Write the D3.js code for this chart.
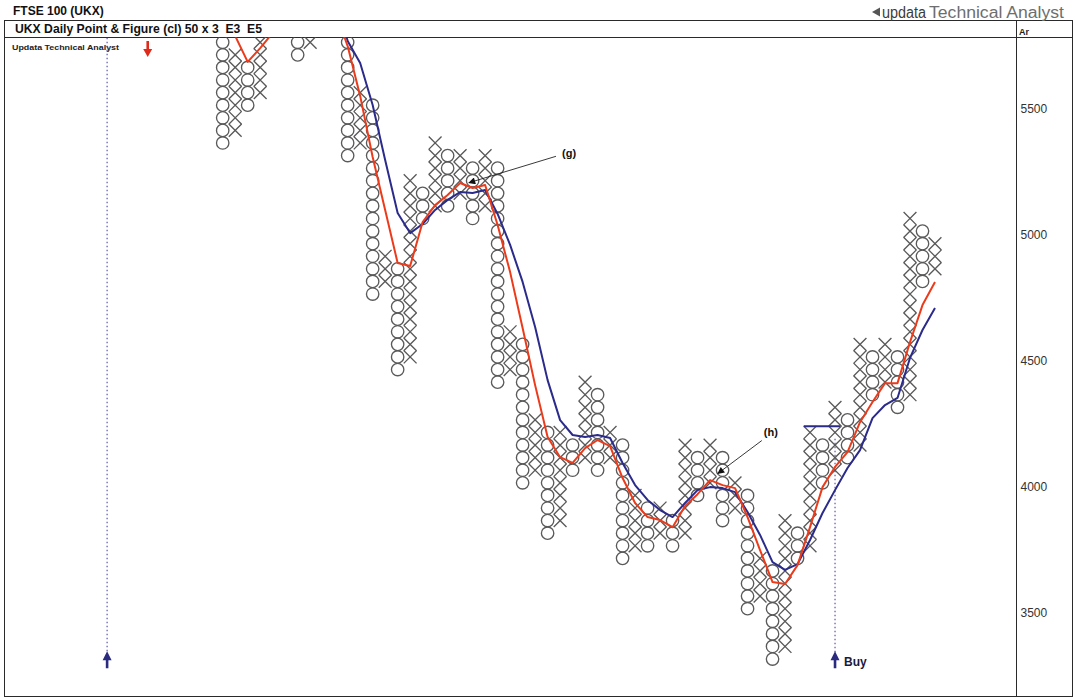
<!DOCTYPE html>
<html><head><meta charset="utf-8">
<script src="https://cdn.jsdelivr.net/npm/d3@7"></script>
<style>
body{margin:0;background:#fff}
svg{display:block}
text{font-family:"Liberation Sans",Arial,Helvetica,sans-serif}
</style>
</head><body>
<svg id="c" width="1076" height="699"></svg>
<script>
// ---------------- DATA ----------------
const boxSize = 50;
// column type: even index = O (falling), odd index = X (rising)
const colTypes = ["O","X","O","X","O","X","O","X","O","X","O","X","O","X","O","X","O","X","O","X",
                  "O","X","O","X","O","X","O","X","O","X","O","X","O","X","O","X","O","X","O","X",
                  "O","X","O","X","O","X","O","X","O","X","O","X","O","X","O","X","O","X"];
// lowest and highest box (lower bound of the box) of each column
const colLow  = [5350,5400,5500,5550,5800,5850,5700,5750,5800,5850,5300,5350,4750,4800,4450,4500,5050,5100,5100,5150,
                 5050,5100,4400,4450,4000,4050,3800,3850,4050,4100,4050,4100,3700,3750,3750,3800,3750,3800,3950,4000,
                 3850,3900,3500,3550,3300,3350,3700,3750,4000,4050,4100,4150,4350,4400,4300,4350,4800,4850];
const colHigh = [5950,5700,5650,5950,5900,6000,5950,6000,5950,6100,6050,5550,5500,4900,4850,5200,5150,5350,5300,5300,
                 5250,5300,5250,4600,4550,4250,4200,4200,4150,4400,4350,4200,4150,3950,3900,3900,3850,4150,4100,4150,
                 4100,4000,3950,3700,3650,3850,3800,4200,4150,4300,4250,4550,4500,4550,4500,5050,5000,4950];
// E3 (red) and E5 (blue) averages, one value per column
const avgE3 = [5900,5800,5697,5752,5812,5900,5950,5950,5950,5900,5760,5562,5319,5109,4898,4886,5061,5128,5168,5216,
               5196,5208,5049,4862,4640,4413,4207,4127,4104,4163,4195,4171,4044,3945,3889,3877,3849,3933,3980,4036,
               4016,4004,3889,3758,3631,3623,3698,3849,4008,4088,4147,4266,4346,4421,4421,4584,4731,4823];
const avgE5 = [6000,6000,6000,6000,6000,6000,6000,6000,6000,5952,5780,5693,5526,5307,5097,5017,5053,5109,5149,5180,
               5176,5188,5093,4970,4823,4644,4433,4274,4215,4207,4215,4203,4104,4016,3957,3917,3889,3945,3996,4008,
               4004,3988,3909,3818,3710,3679,3702,3798,3905,3996,4084,4155,4282,4334,4362,4521,4632,4719];
const tickValues = [3500, 4000, 4500, 5000, 5500];
// signals
const buySignals = [{col:-9.25, top:6000}, {col:49, top:4200}];
const sellSignals = [{col:-6}];
const buyLevel = {from:46.5, to:49.4, value:4250};
const notes = [
  {label:"(g)", col:27.16, val:5333, startCol:26.67, startVal:5322, tipCol:19.7, tipVal:5217},
  {label:"(h)", col:43.3,  val:4225, startCol:43.14, startVal:4193, tipCol:39.62, tipVal:4062}
];

// ---------------- LAYOUT ----------------
const frame = {left:4.5, top:20.5, right:1072.5, bottom:696.5, header:37.5, axisX:1016.5};
const svg = d3.select("#c");

const x = d3.scaleLinear().domain([0, 57]).range([222.7, 935]);
const y = d3.scaleLinear().domain([3500, 5500]).range([615, 111.5]);

const markColor = "#5a5a5a";
const red = "#ec3b1b", blue = "#2b2b8c", navy = "#2a2a7e";

const defs = svg.append("defs");
defs.append("clipPath").attr("id","plot")
  .append("rect").attr("x", frame.left).attr("y", frame.header)
  .attr("width", frame.axisX - frame.left).attr("height", frame.bottom - frame.header);
defs.append("marker").attr("id","ah")
  .attr("viewBox","0 0 10 10").attr("refX",9).attr("refY",5)
  .attr("markerWidth",9).attr("markerHeight",7).attr("orient","auto")
  .attr("markerUnits","userSpaceOnUse")
  .append("path").attr("d","M0,0L10,5L0,10z").attr("fill","#111");

// ---------------- FRAME ----------------
const fr = svg.append("g").attr("stroke","#2a2a2a").attr("stroke-width",1).attr("fill","none");
fr.append("rect").attr("x",frame.left).attr("y",frame.top)
  .attr("width",frame.right-frame.left).attr("height",frame.bottom-frame.top);
fr.append("line").attr("x1",frame.left).attr("x2",frame.right).attr("y1",frame.header).attr("y2",frame.header);
fr.append("line").attr("x1",frame.axisX).attr("x2",frame.axisX).attr("y1",frame.top).attr("y2",frame.bottom);

// titles
svg.append("text").attr("x",13).attr("y",15).attr("font-size",12).attr("font-weight","bold")
  .attr("fill","#111").text("FTSE 100 (UKX)");
svg.append("text").attr("x",15).attr("y",33).attr("font-size",12).attr("font-weight","bold")
  .attr("fill","#111").style("white-space","pre").attr("textLength",247).attr("lengthAdjust","spacingAndGlyphs")
  .text("UKX Daily Point & Figure (cl) 50 x 3  E3  E5");
svg.append("text").attr("x",1019).attr("y",35).attr("font-size",9).attr("font-weight","bold")
  .attr("fill","#222").text("Ar");
svg.append("text").attr("x",12).attr("y",50).attr("font-size",8).attr("font-weight","bold")
  .attr("fill","#222").attr("textLength",107).attr("lengthAdjust","spacingAndGlyphs")
  .text("Updata Technical Analyst");
// logo
svg.append("path").attr("d","M872,12L880,7.5L880,16.5z").attr("fill","#555");
svg.append("text").attr("x",882).attr("y",18).attr("font-size",16).attr("fill","#3c3c3c")
  .attr("textLength",44).attr("lengthAdjust","spacingAndGlyphs").text("updata");
svg.append("text").attr("x",929).attr("y",18).attr("font-size",16).attr("fill","#6e6e6e")
  .attr("textLength",135).attr("lengthAdjust","spacingAndGlyphs").text("Technical Analyst");

// ---------------- AXIS ----------------
const ax = svg.append("g").attr("transform",`translate(${frame.axisX},0)`)
  .call(d3.axisRight(y).tickValues(tickValues).tickSize(0).tickPadding(4).tickFormat(d3.format("d")));
ax.select(".domain").remove();
ax.selectAll("text").attr("font-size",12).attr("fill","#333").attr("dy","0.12em")
  .attr("font-family","'Liberation Sans',Arial,sans-serif");

// ---------------- PLOT ----------------
const plot = svg.append("g").attr("clip-path","url(#plot)");
const yBottom = y(3300);

// signal dotted lines
buySignals.forEach(s => {
  plot.append("line").attr("x1",x(s.col)).attr("x2",x(s.col))
    .attr("y1",y(s.top)).attr("y2",yBottom-12)
    .attr("stroke","#5a56a8").attr("stroke-width",1.2).attr("stroke-dasharray","1.5,2.5");
});

// boxes
const boxes = [];
colTypes.forEach((t,i) => {
  for (let b = colLow[i]; b <= colHigh[i]; b += boxSize) boxes.push({t, col:i, v:b + boxSize/2});
});
const r = 6.2, rx = 6.4;
plot.selectAll("circle.o").data(boxes.filter(d=>d.t==="O")).join("circle")
  .attr("class","o").attr("cx",d=>x(d.col)).attr("cy",d=>y(d.v)).attr("r",r)
  .attr("fill","none").attr("stroke",markColor).attr("stroke-width",1.35);
plot.selectAll("path.x").data(boxes.filter(d=>d.t==="X")).join("path")
  .attr("class","x").attr("transform",d=>`translate(${x(d.col)},${y(d.v)})`)
  .attr("d",`M${-rx},${-rx}L${rx},${rx}M${-rx},${rx}L${rx},${-rx}`)
  .attr("stroke",markColor).attr("stroke-width",1.35).attr("fill","none");

// buy level line
plot.append("line").attr("x1",x(buyLevel.from)).attr("x2",x(buyLevel.to))
  .attr("y1",y(buyLevel.value)).attr("y2",y(buyLevel.value))
  .attr("stroke",blue).attr("stroke-width",2);

// averages
const line = d3.line().x((d,i)=>x(i)).y(d=>y(d));
plot.append("path").datum(avgE5).attr("d",line).attr("fill","none")
  .attr("stroke",blue).attr("stroke-width",2).attr("stroke-linejoin","round");
plot.append("path").datum(avgE3).attr("d",line).attr("fill","none")
  .attr("stroke",red).attr("stroke-width",2).attr("stroke-linejoin","round");

// buy arrows
buySignals.forEach(s => {
  const cx = x(s.col), tip = yBottom-14;
  svg.append("path").attr("d",`M${cx},${tip}L${cx+4.5},${tip+9}L${cx+1.3},${tip+9}L${cx+1.3},${tip+17}L${cx-1.3},${tip+17}L${cx-1.3},${tip+9}L${cx-4.5},${tip+9}z`)
    .attr("fill",navy);
});
svg.append("text").attr("x",x(49)+9).attr("y",yBottom+1).attr("font-size",12).attr("font-weight","bold")
  .attr("fill","#1a1a40").text("Buy");
// sell arrow
sellSignals.forEach(s => {
  const cx = x(s.col), top = 41;
  svg.append("path").attr("d",`M${cx-1.3},${top}L${cx+1.3},${top}L${cx+1.3},${top+8}L${cx+4.5},${top+8}L${cx},${top+16}L${cx-4.5},${top+8}L${cx-1.3},${top+8}z`)
    .attr("fill","#e02a1a");
});

// annotations
notes.forEach(n => {
  svg.append("line").attr("x1",x(n.startCol)).attr("y1",y(n.startVal))
    .attr("x2",x(n.tipCol)).attr("y2",y(n.tipVal))
    .attr("stroke","#222").attr("stroke-width",0.9).attr("marker-end","url(#ah)");
  svg.append("text").attr("x",x(n.col)).attr("y",y(n.val)).attr("dy","0.35em")
    .attr("font-size",11).attr("font-weight","bold").attr("fill","#111").text(n.label);
});
</script>
</body></html>
